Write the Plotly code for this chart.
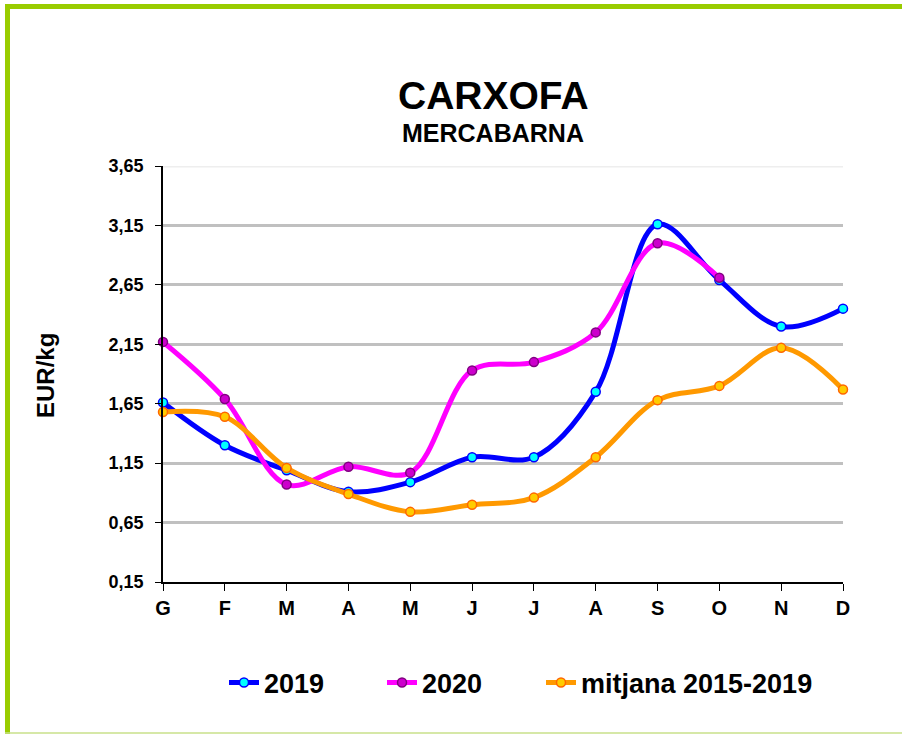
import plotly.graph_objects as go

months = ["G", "F", "M", "A", "M", "J", "J", "A", "S", "O", "N", "D"]
preu_2019 = [1.66, 1.30, 1.09, 0.91, 0.99, 1.20, 1.20, 1.75, 3.16, 2.69, 2.30, 2.45]
preu_2020 = [2.17, 1.69, 0.97, 1.12, 1.07, 1.93, 2.00, 2.25, 3.00, 2.71, None, None]
mitjana = [1.58, 1.54, 1.11, 0.89, 0.74, 0.80, 0.86, 1.20, 1.68, 1.80, 2.12, 1.77]
y_ticks = [0.15, 0.65, 1.15, 1.65, 2.15, 2.65, 3.15, 3.65]

FONT = "Liberation Sans, Arial, sans-serif"
W, H = 902, 734
L, R, T, B = 163, 59, 166, 152


def px_x(p):
    return (p - L) / (W - L - R)


def px_y(p):
    return (H - B - p) / (H - T - B)


# name, values, line colour, marker fill, marker edge, legend id, legend left px
series = [
    ("2019", preu_2019, "#0000ff", "#00ffff", "#0000ff", "legend", 224),
    ("2020", preu_2020, "#ff00ff", "#cc00cc", "#800080", "legend2", 382),
    ("mitjana 2015-2019", mitjana, "#ff9900", "#ffcc00", "#ff6600", "legend3", 541),
]

x = list(range(len(months)))
fig = go.Figure()
legends = {}
for name, vals, col, fill, edge, leg, lx in series:
    fig.add_trace(go.Scatter(
        x=x, y=vals, name=name, mode="lines+markers", legend=leg,
        line=dict(color=col, width=5, shape="spline", smoothing=1),
        marker=dict(size=9, color=fill, line=dict(color=edge, width=1.5)),
        cliponaxis=False))
    legends[leg] = dict(orientation="h", x=px_x(lx), y=px_y(683),
                        xanchor="left", yanchor="middle", bgcolor="rgba(0,0,0,0)",
                        font=dict(family=FONT, size=27, color="black", weight="bold"))

fig.update_xaxes(
    range=[0, 11], tickvals=x, ticktext=months,
    showline=True, linecolor="black", linewidth=1.5,
    ticks="outside", ticklen=7, tickcolor="black", showgrid=False,
    tickfont=dict(family=FONT, size=20, color="black", weight="bold"))
fig.update_yaxes(
    range=[0.15, 3.65], tickvals=y_ticks, tickformat=".2f",
    showline=True, linecolor="black", linewidth=1.5,
    ticks="outside", ticklen=6, tickcolor="black",
    gridcolor="#c0c0c0", gridwidth=2.5, zeroline=False,
    ticklabelstandoff=8,
    tickfont=dict(family=FONT, size=18, color="black", weight="bold"))

green = "#99cc00"
fig.update_layout(
    width=W, height=H,
    margin=dict(l=L, r=R, t=T, b=B),
    paper_bgcolor="white", plot_bgcolor="white",
    separators=",.",
    showlegend=True,
    **legends,
    annotations=[
        dict(text="<b>CARXOFA</b>", x=px_x(493), y=px_y(95), xref="paper", yref="paper",
             xanchor="center", yanchor="middle",
             showarrow=False, font=dict(family=FONT, size=39, color="black")),
        dict(text="<b>MERCABARNA</b>", x=px_x(493), y=px_y(133), xref="paper", yref="paper",
             xanchor="center", yanchor="middle",
             showarrow=False, font=dict(family=FONT, size=25, color="black")),
        dict(text="<b>EUR/kg</b>", x=px_x(45), y=px_y(376), xref="paper", yref="paper",
             xanchor="center", yanchor="middle",
             showarrow=False, textangle=-90, font=dict(family=FONT, size=24, color="black")),
    ],
    shapes=[
        dict(type="line", xref="paper", yref="y", x0=0, x1=1, y0=3.65, y1=3.65,
             line=dict(color="#eeeeee", width=3), layer="between"),
        dict(type="line", xref="paper", yref="paper", x0=px_x(7.5), x1=px_x(7.5),
             y0=px_y(4), y1=px_y(734), line=dict(color=green, width=5)),
        dict(type="line", xref="paper", yref="paper", x0=px_x(5), x1=px_x(902),
             y0=px_y(6.5), y1=px_y(6.5), line=dict(color=green, width=5)),
        dict(type="line", xref="paper", yref="paper", x0=px_x(5), x1=px_x(902),
             y0=px_y(733), y1=px_y(733), line=dict(color="#c8e08a", width=1.5)),
    ],
)

fig.write_html("out.html", config={"displayModeBar": False},
               post_script="document.body.style.margin='0px';")
